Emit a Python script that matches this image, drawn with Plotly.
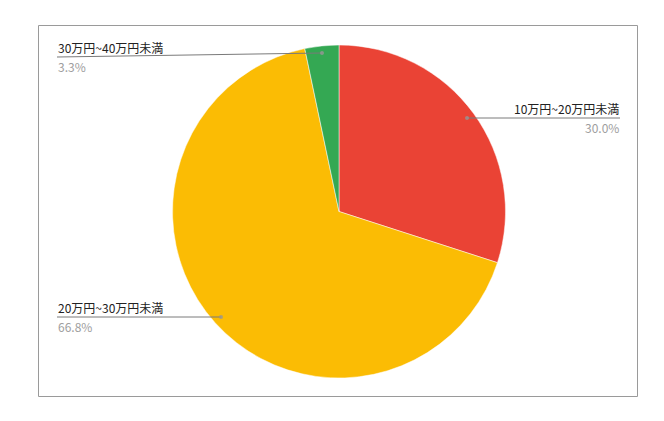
import plotly.graph_objects as go

# the page puts the plot 8px in from the top-left corner
OFF = 8
W, H = 664 - OFF, 421 - OFF

labels = ["10万円~20万円未満", "20万円~30万円未満", "30万円~40万円未満"]
values = [30.0, 66.8, 3.3]
pct_text = ["30.0%", "66.8%", "3.3%"]
colors = ["#EA4335", "#FBBC04", "#34A853"]

FONT = "Noto Sans CJK JP, Noto Sans, sans-serif"


def px(x):
    return (x - OFF) / W


def py(y):
    return 1 - (y - OFF) / H


fig = go.Figure()
fig.add_trace(go.Pie(
    labels=labels,
    values=values,
    sort=False,
    direction="clockwise",
    rotation=0,
    textinfo="none",
    marker=dict(colors=colors, line=dict(color="white", width=0.5)),
    domain=dict(x=[px(172), px(506)], y=[py(378), py(45)]),
    showlegend=False,
))

# leader lines: (dot x, dot y, text end x, text end y, side)
leaders = [
    (467, 118, 620, 118, "right"),
    (221, 317, 57, 317, "left"),
    (322, 53, 57, 57, "left"),
]

shapes = [dict(type="rect", xref="paper", yref="paper",
               x0=px(38.5), x1=px(637.5), y0=py(396.5), y1=py(25.5),
               line=dict(color="#9a9a9a", width=1))]
annotations = []
for (dx, dy, tx, ty, side), lab, pct in zip(leaders, labels, pct_text):
    shapes.append(dict(type="line", xref="paper", yref="paper",
                       x0=px(dx), y0=py(dy), x1=px(tx), y1=py(ty),
                       line=dict(color="#7a7a7a", width=1)))
    shapes.append(dict(type="circle", xref="paper", yref="paper",
                       x0=px(dx - 2), x1=px(dx + 2), y0=py(dy + 2), y1=py(dy - 2),
                       fillcolor="rgba(150,150,150,0.8)", line=dict(width=0)))
    anchor = "right" if side == "right" else "left"
    annotations.append(dict(x=px(tx), y=py(ty), xref="paper", yref="paper",
                            text=lab, showarrow=False, xanchor=anchor, yanchor="bottom",
                            font=dict(family=FONT, size=12, color="#222222"), borderpad=0))
    annotations.append(dict(x=px(tx), y=py(ty), xref="paper", yref="paper",
                            text=pct, showarrow=False, xanchor=anchor, yanchor="top",
                            font=dict(family=FONT, size=12, color="#9e9e9e"), borderpad=0))

fig.update_layout(
    width=W, height=H,
    margin=dict(l=0, r=0, t=0, b=0),
    paper_bgcolor="white",
    plot_bgcolor="white",
    shapes=shapes,
    annotations=annotations,
)

fig.write_html("out.html")
